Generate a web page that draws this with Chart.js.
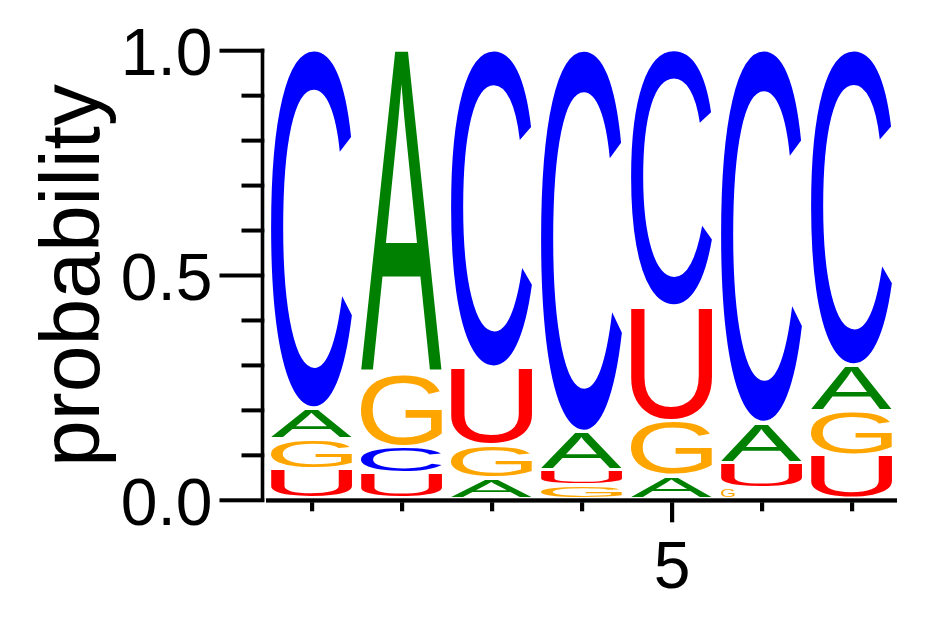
<!DOCTYPE html>
<html><head><meta charset="utf-8">
<script src="https://cdn.jsdelivr.net/npm/chart.js@4.4.0/dist/chart.umd.min.js"></script>
<style>html,body{margin:0;padding:0;background:#fff;}canvas{display:block;}</style>
</head><body>
<canvas id="c" width="942" height="617"></canvas>
<script>
// ---- data ----
const positions = ['1','2','3','4','5','6','7'];
const letters = ['A','C','G','U'];
const probA = [0.068, 0.722, 0.045, 0.086, 0.052, 0.089, 0.102];
const probC = [0.799, 0.059, 0.708, 0.851, 0.572, 0.831, 0.703];
const probG = [0.067, 0.162, 0.075, 0.031, 0.122, 0.024, 0.098];
const probU = [0.066, 0.057, 0.172, 0.032, 0.254, 0.056, 0.097];
const yTickValues = [0, 0.5, 1.0];
const yTickLabels = ['0.0', '0.5', '1.0'];
const yMinorTickValues = [0.1, 0.2, 0.3, 0.4, 0.6, 0.7, 0.8, 0.9];
const xTickLabels = ['', '', '', '', '5', '', ''];
const yAxisTitle = 'probability';

const letterColors = {A:'#008000', C:'#0000FF', G:'#FFA500', U:'#FF0000'};
const probs = {A:probA, C:probC, G:probG, U:probU};

// stack letters per position, smallest at the bottom
const ranges = {A:[], C:[], G:[], U:[]};
positions.forEach((p, i) => {
  const order = letters.slice().sort((a, b) => probs[a][i] - probs[b][i]);
  let cum = 0;
  order.forEach(l => { ranges[l][i] = [cum, cum + probs[l][i]]; cum += probs[l][i]; });
});

const FONT = '"Liberation Sans", Arial, Helvetica, sans-serif';

function drawGlyph(ctx, ch, color, left, top, w, h) {
  ctx.save();
  ctx.font = '200px ' + FONT;
  ctx.textAlign = 'left';
  ctx.textBaseline = 'alphabetic';
  const m = ctx.measureText(ch);
  const gw = m.actualBoundingBoxLeft + m.actualBoundingBoxRight;
  const gh = m.actualBoundingBoxAscent + m.actualBoundingBoxDescent;
  ctx.translate(left, top);
  ctx.scale(w / gw, h / gh);
  ctx.fillStyle = color;
  ctx.fillText(ch, m.actualBoundingBoxLeft, m.actualBoundingBoxAscent);
  ctx.restore();
}

const logoPlugin = {
  id: 'logo',
  afterDatasetsDraw(chart) {
    const ctx = chart.ctx;
    chart.data.datasets.forEach((ds, di) => {
      const meta = chart.getDatasetMeta(di);
      meta.data.forEach(el => {
        const {x, y, base, width} = el.getProps(['x', 'y', 'base', 'width'], true);
        const top = Math.min(y, base);
        const bottom = Math.max(y, base) - 3.5;
        const h = bottom - top;
        if (h <= 0.5) return;
        const left = x - width / 2 - 0.5;
        const w = h < 8 ? h * 1.85 : width;
        drawGlyph(ctx, ds.label, letterColors[ds.label], left, top, w, h);
      });
    });
  },
  afterDraw(chart) {
    const ctx = chart.ctx;
    const xs = chart.scales.x, ys = chart.scales.y, ca = chart.chartArea;
    const y0 = ys.getPixelForValue(0), y1 = ys.getPixelForValue(1);
    const axX = ca.left - 4.5;
    ctx.save();
    ctx.fillStyle = '#000';
    // y axis line
    ctx.fillRect(axX - 1.8, y1 - 2, 3.6, y0 - y1 + 3.5);
    // y ticks
    yTickValues.forEach(v => {
      const py = ys.getPixelForValue(v);
      ctx.fillRect(axX - 43, py - 2, 44.8, 4);
    });
    yMinorTickValues.forEach(v => {
      const py = ys.getPixelForValue(v);
      ctx.fillRect(axX - 21, py - 2, 22.8, 4);
    });
    // x axis line
    ctx.fillRect(ca.left - 1, y0 - 2, ca.right - ca.left + 1, 4.3);
    // x ticks
    positions.forEach((p, i) => {
      const px = xs.getPixelForValue(i);
      const len = xTickLabels[i] ? 20 : 9;
      ctx.fillRect(px - 2, y0 + 2, 4.2, len);
    });
    // tick labels
    ctx.font = '66px ' + FONT;
    ctx.textBaseline = 'alphabetic';
    ctx.textAlign = 'right';
    yTickValues.forEach((v, k) => {
      const py = ys.getPixelForValue(v);
      ctx.fillText(yTickLabels[k], axX - 50, py + 24.5);
    });
    ctx.textAlign = 'center';
    positions.forEach((p, i) => {
      if (!xTickLabels[i]) return;
      const px = xs.getPixelForValue(i);
      ctx.fillText(xTickLabels[i], px, y0 + 88);
    });
    // axis title
    ctx.font = '84px ' + FONT;
    ctx.translate(99, (y0 + y1) / 2);
    ctx.rotate(-Math.PI / 2);
    ctx.textAlign = 'center';
    ctx.fillText(yAxisTitle, 0, 0);
    ctx.restore();
  }
};

new Chart(document.getElementById('c'), {
  type: 'bar',
  data: {
    labels: positions,
    datasets: letters.map(l => ({
      label: l,
      data: ranges[l],
      backgroundColor: 'rgba(0,0,0,0)',
      borderWidth: 0,
      grouped: false,
      categoryPercentage: 1.0,
      barPercentage: 0.9
    }))
  },
  options: {
    responsive: false,
    animation: false,
    layout: {padding: {left: 267, right: 45, top: 50.7, bottom: 116.7}},
    plugins: {legend: {display: false}, tooltip: {enabled: false}},
    scales: {
      x: {type: 'category', display: false, offset: true},
      y: {type: 'linear', display: false, min: 0, max: 1}
    }
  },
  plugins: [logoPlugin]
});
</script>
</body></html>
